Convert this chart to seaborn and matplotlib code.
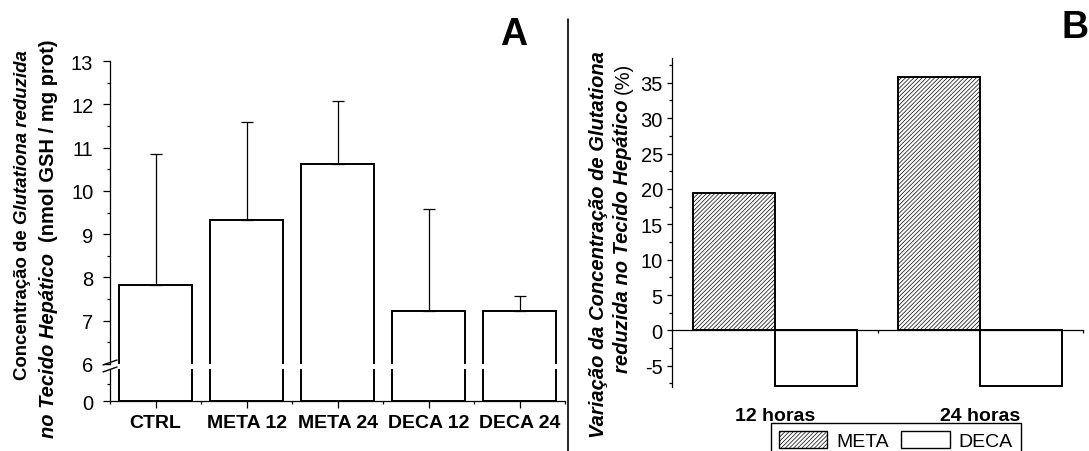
import seaborn as sns
import matplotlib.pyplot as plt
import pandas as pd
from matplotlib.lines import Line2D
from matplotlib.patches import Patch
from matplotlib.ticker import MultipleLocator, FixedLocator

# Painel A - GSH no tecido hepatico
groups = ['CTRL', 'META 12', 'META 24', 'DECA 12', 'DECA 24']
gsh_mean = [7.83, 9.33, 10.61, 7.22, 7.22]
gsh_err = [3.03, 2.27, 1.47, 2.36, 0.34]

# Painel B - variacao (%)
tempos = ['12 horas', '24 horas']
meta_var = [19.4, 35.8]
deca_var = [-7.8, -7.8]

sns.set_style('ticks', {'axes.edgecolor': 'black', 'text.color': 'black',
                        'xtick.color': 'black', 'ytick.color': 'black'})
plt.rcParams['font.family'] = ['Liberation Sans', 'DejaVu Sans']
plt.rcParams['hatch.linewidth'] = 0.5
plt.rcParams['axes.linewidth'] = 0.9
plt.rcParams['axes.unicode_minus'] = False

W, H = 1089, 452
fig = plt.figure(figsize=(W / 100, H / 100), dpi=100)


def px(x0, y0, x1, y1):
    return [x0 / W, 1 - y1 / H, (x1 - x0) / W, (y1 - y0) / H]


ax_top = fig.add_axes(px(110, 62, 565, 365))
ax_bot = fig.add_axes(px(110, 370, 565, 402))
ax_b = fig.add_axes(px(672, 59, 1083, 388))

# --- A ---
for ax in (ax_top, ax_bot):
    sns.barplot(x=groups, y=gsh_mean, color='white', saturation=1, edgecolor='black',
                linewidth=1.4, width=0.8, errorbar=None, ax=ax)
    ax.set_xlim(-0.5, len(groups) - 0.5)
    ax.set_xlabel('')
    ax.set_ylabel('')
    ax.spines[['top', 'right']].set_visible(False)

ax_top.errorbar(list(range(len(groups))), gsh_mean, yerr=[[0] * len(groups), gsh_err],
                fmt='none', ecolor='black', elinewidth=0.9, capsize=4, capthick=0.9)
ax_top.set_ylim(6, 13)
ax_top.yaxis.set_major_locator(MultipleLocator(1))
ax_top.yaxis.set_minor_locator(MultipleLocator(0.5))
ax_top.spines['bottom'].set_visible(False)
ax_top.tick_params(axis='x', which='both', bottom=False, labelbottom=False)

ax_bot.set_ylim(0, 0.94)
ax_bot.set_yticks([0])
ax_bot.yaxis.set_minor_locator(FixedLocator([0.5]))
ax_bot.xaxis.set_minor_locator(FixedLocator([i - 0.5 for i in range(len(groups) + 1)]))
for lab in ax_bot.get_xticklabels():
    lab.set_fontweight('bold')

for ax in (ax_top, ax_bot):
    ax.tick_params(which='major', direction='out', length=5, width=0.9, labelsize=14.5, pad=7)
    ax.tick_params(which='minor', direction='out', length=2.2, width=0.9)
ax_bot.tick_params(axis='x', which='major', labelsize=14, pad=4.5)

# --- B ---
df = pd.DataFrame({'tempo': tempos * 2,
                   'grupo': ['META'] * len(tempos) + ['DECA'] * len(tempos),
                   'valor': meta_var + deca_var})
sns.barplot(data=df, x='tempo', y='valor', hue='grupo', palette=['white', 'white'],
            saturation=1, edgecolor='black', linewidth=1.4, width=0.8, gap=0,
            errorbar=None, legend=False, ax=ax_b)
for bar in ax_b.containers[0]:
    bar.set_hatch('////////')
ax_b.set_xlim(-0.5, len(tempos) - 0.5)
ax_b.set_ylim(-8, 38.5)
ax_b.set_xlabel('')
ax_b.set_ylabel('')
ax_b.yaxis.set_major_locator(MultipleLocator(5))
ax_b.yaxis.set_minor_locator(MultipleLocator(2.5))
ax_b.spines[['top', 'right']].set_visible(False)
ax_b.spines['bottom'].set_position(('data', 0))
ax_b.xaxis.set_minor_locator(FixedLocator([i + 0.5 for i in range(len(tempos))]))
ax_b.tick_params(which='major', direction='out', length=3.6, width=0.9, labelsize=14.5, pad=3)
ax_b.tick_params(which='minor', direction='out', length=2.2, width=0.9)
ax_b.tick_params(axis='x', which='major', length=0, labelsize=14, pad=55)
for lab in ax_b.get_xticklabels():
    lab.set_fontweight('bold')

handles = [Patch(facecolor='white', edgecolor='black', hatch='////////', lw=1),
           Patch(facecolor='white', edgecolor='black', lw=1)]
leg = fig.legend(handles, ['META', 'DECA'], loc='upper left',
                 bbox_to_anchor=(771 / W, 1 - 424 / H), ncol=2, fancybox=False,
                 edgecolor='black', framealpha=1, fontsize=14, handlelength=2.5,
                 handleheight=0.95, handletextpad=0.45, columnspacing=0.65,
                 borderpad=0.4, borderaxespad=0)
leg.get_frame().set_linewidth(1.0)

# separador, quebra do eixo e letras
fig.add_artist(Line2D([568 / W, 568 / W], [1 - 20 / H, 0], transform=fig.transFigure,
                      color='black', lw=1.2))
for y0 in (366, 373):
    fig.add_artist(Line2D([103 / W, 117 / W], [1 - y0 / H, 1 - (y0 - 5) / H],
                          transform=fig.transFigure, color='black', lw=1.0))
fig.text(514 / W, 1 - 45 / H, 'A', fontsize=27, weight='bold', ha='center', va='baseline')
fig.text(1075 / W, 1 - 38 / H, 'B', fontsize=27, weight='bold', ha='center', va='baseline')


def label(ax, x, y, pieces, size):
    prev = None
    for text, style, weight, gap in pieces:
        if prev is None:
            prev = fig.text(x / W, 1 - y / H, text, rotation=90, ha='center', va='bottom',
                            fontsize=size, style=style, weight=weight)
        else:
            prev = ax.annotate(text, xy=(0.5, 1), xycoords=prev, xytext=(0, gap),
                               textcoords='offset points', rotation=90, ha='center',
                               va='bottom', fontsize=size, style=style, weight=weight,
                               annotation_clip=False)


label(ax_top, 23, 380, [('Concentração de', 'normal', 'bold', 0),
                        ('Glutationa reduzida', 'italic', 'bold', 3.7)], 13.4)
label(ax_top, 49, 438, [('no Tecido Hepático', 'italic', 'bold', 0),
                        ('(nmol GSH / mg prot)', 'normal', 'bold', 8)], 14.5)
label(ax_b, 599, 438, [('Variação da Concentração de Glutationa', 'italic', 'bold', 0)], 14.5)
label(ax_b, 623, 373, [('reduzida no Tecido Hepático', 'italic', 'bold', 0),
                       ('(%)', 'normal', 'normal', 4)], 14.5)

fig.savefig('out.png', dpi=100)
